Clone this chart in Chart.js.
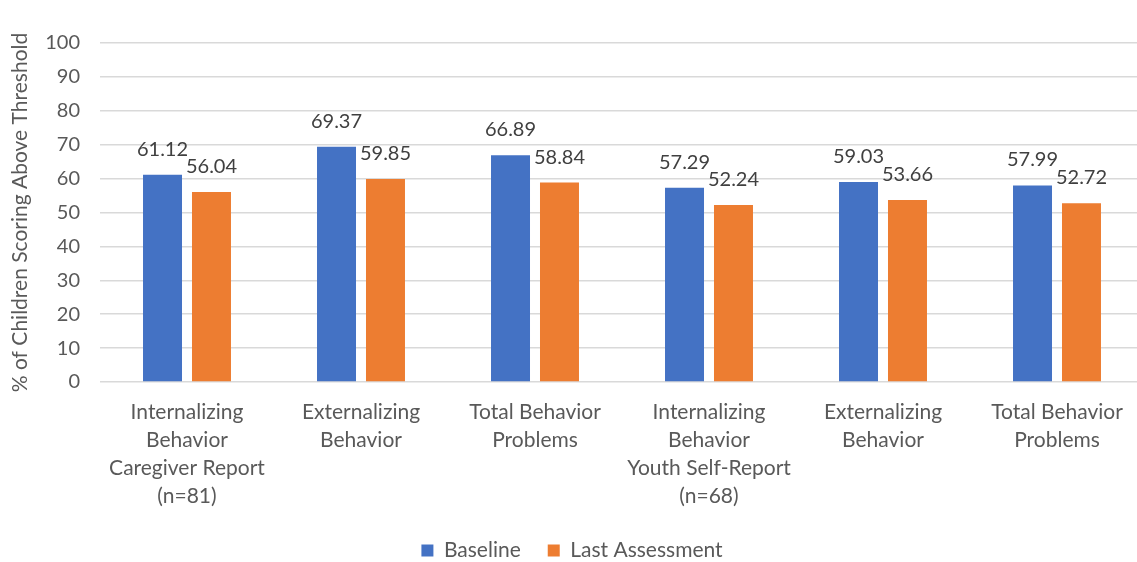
<!DOCTYPE html>
<html>
<head>
<meta charset="utf-8">
<script src="https://cdn.jsdelivr.net/npm/chart.js@4.4.1/dist/chart.umd.min.js"></script>
<style>
  html, body { margin: 0; padding: 0; background: #ffffff; overflow: hidden; }
  #wrap { width: 1137px; height: 562px; overflow: hidden; }
  canvas { display: block; }
</style>
</head>
<body>
<div id="wrap"><canvas id="chart" width="1144" height="562"></canvas></div>
<script>
// Categories (multi-line axis labels)
const categories = [
  ["Internalizing", "Behavior", "Caregiver Report", "(n=81)"],
  ["Externalizing", "Behavior"],
  ["Total Behavior", "Problems"],
  ["Internalizing", "Behavior", "Youth Self-Report", "(n=68)"],
  ["Externalizing", "Behavior"],
  ["Total Behavior", "Problems"]
];

// Percent of children scoring above threshold
const baseline = [61.12, 69.37, 66.89, 57.29, 59.03, 57.99];
const lastAssessment = [56.04, 59.85, 58.84, 52.24, 53.66, 52.72];

// Y axis ticks
const yTicks = [0, 10, 20, 30, 40, 50, 60, 70, 80, 90, 100];

const FONT = "Lato, 'Open Sans', sans-serif";
const TEXT = "#595959";

// Value labels above each bar
const valueLabels = {
  id: "valueLabels",
  afterDatasetsDraw(chart) {
    const ctx = chart.ctx;
    ctx.save();
    ctx.font = "20px " + FONT;
    ctx.fillStyle = "#404040";
    ctx.textAlign = "center";
    ctx.textBaseline = "alphabetic";
    chart.data.datasets.forEach((ds, i) => {
      const meta = chart.getDatasetMeta(i);
      meta.data.forEach((bar, j) => {
        ctx.fillText(ds.data[j].toFixed(2), bar.x, bar.y - 19);
      });
    });
    ctx.restore();
  }
};

new Chart(document.getElementById("chart"), {
  type: "bar",
  data: {
    labels: categories,
    datasets: [
      {
        label: "Baseline",
        data: baseline,
        backgroundColor: "#4472C4",
        categoryPercentage: 0.563,
        barPercentage: 0.796
      },
      {
        label: "Last Assessment",
        data: lastAssessment,
        backgroundColor: "#ED7D31",
        categoryPercentage: 0.563,
        barPercentage: 0.796
      }
    ]
  },
  options: {
    responsive: false,
    animation: false,
    layout: { padding: { top: 43, left: 0, right: 0, bottom: -9 } },
    plugins: {
      tooltip: { enabled: false },
      legend: {
        position: "bottom",
        labels: {
          boxWidth: 12,
          boxHeight: 12,
          padding: 27,
          color: TEXT,
          font: { family: FONT, size: 21 }
        }
      }
    },
    scales: {
      x: {
        afterFit(scale) { scale.height = 131; },
        grid: { display: false, drawTicks: false },
        border: { display: false },
        ticks: {
          color: TEXT,
          padding: 16,
          maxRotation: 0,
          autoSkip: false,
          font: { family: FONT, size: 21, lineHeight: 28 / 21 }
        }
      },
      y: {
        min: 0,
        max: 100,
        afterBuildTicks(scale) {
          scale.ticks = yTicks.map(v => ({ value: v }));
        },
        afterFit(scale) { scale.width = 100; },
        grid: { color: "#D9D9D9", lineWidth: 1.5, drawTicks: false },
        border: { display: false },
        ticks: {
          color: TEXT,
          padding: 20,
          font: { family: FONT, size: 20 }
        },
        title: {
          display: true,
          text: "% of Children Scoring Above Threshold",
          color: TEXT,
          padding: { top: 8, bottom: 0 },
          font: { family: FONT, size: 21, lineHeight: 1.2 }
        }
      }
    }
  },
  plugins: [valueLabels]
});
</script>
</body>
</html>
